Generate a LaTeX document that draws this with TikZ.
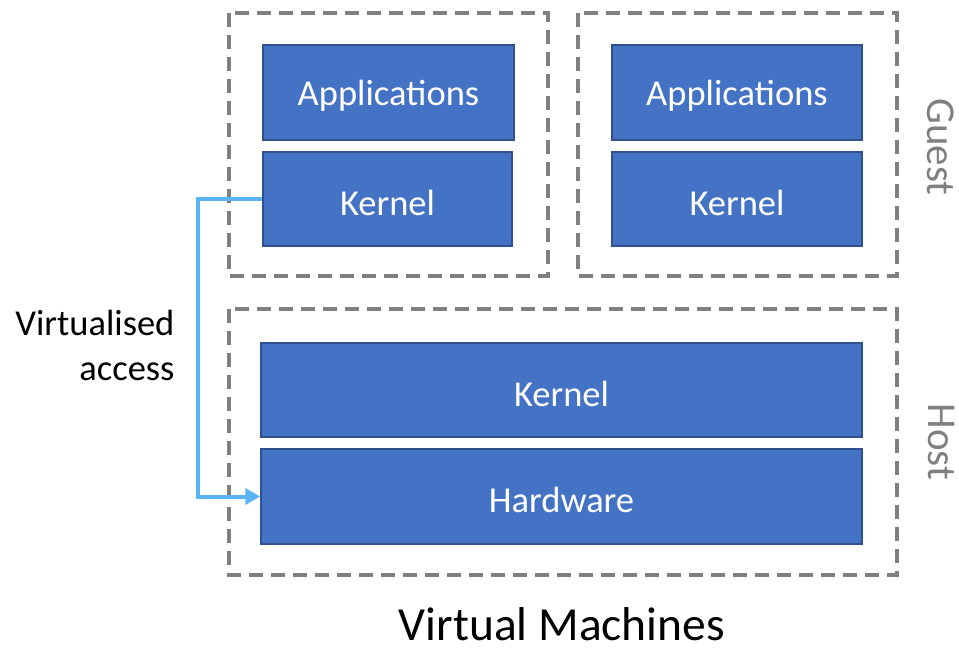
\documentclass[tikz,border=0pt]{standalone}
\usepackage{fontspec}
\setmainfont{Carlito}
\usetikzlibrary{arrows.meta}
\definecolor{boxblue}{HTML}{4472C4}
\definecolor{boxedge}{HTML}{2F528F}
\definecolor{dashgray}{HTML}{808080}
\definecolor{linkblue}{HTML}{5AB4F6}
\tikzset{
  layer/.style={draw=boxedge, line width=1.5pt, fill=boxblue, text=white,
    font=\fontsize{36.5}{40}\selectfont, inner sep=0pt},
  zone/.style={draw=dashgray, line width=4pt, dash pattern=on 14pt off 8pt},
  sidelabel/.style={text=dashgray, font=\fontsize{41}{44}\selectfont, rotate=-90},
  link/.style={draw=linkblue, line width=4pt, -{Triangle[length=15pt,width=16pt]}}
}
% lower a label inside its box while keeping the box dimensions
\newcommand{\lowered}[1]{\raisebox{-3.5pt}[\height][\depth]{#1}}
\begin{document}
\begin{tikzpicture}[x=1pt,y=-1pt]
\useasboundingbox (0,0) rectangle (959,649);
% dashed zones
\draw[zone] (229,13) rectangle (548,276);
\draw[zone] (578,13) rectangle (897,276);
\draw[zone] (229,309) rectangle (897,575);
% guest 1
\node[layer, minimum width=251pt, minimum height=95pt] (app1) at (388.5,92.5) {\lowered{Applications}};
\node[layer, minimum width=249pt, minimum height=94pt] (ker1) at (387.5,199) {\lowered{Kernel}};
% guest 2
\node[layer, minimum width=250pt, minimum height=95pt] (app2) at (737,92.5) {\lowered{Applications}};
\node[layer, minimum width=250pt, minimum height=94pt] (ker2) at (737,199) {\lowered{Kernel}};
% host
\node[layer, minimum width=601pt, minimum height=94pt] (hker) at (561.5,390) {\lowered{Kernel}};
\node[layer, minimum width=601pt, minimum height=95pt] (hw) at (561.5,496.5) {\lowered{Hardware}};
% side labels
\node[sidelabel] (guest) at (941,147) {Guest};
\node[sidelabel] (host) at (941,442) {Host};
% virtualised access link
\coordinate (bendA) at (198,199);
\coordinate (bendB) at (198,496.5);
\draw[link] (ker1.west) -- (bendA) -- (bendB) -- (hw.west);
\node[align=right, anchor=east, font=\fontsize{36.5}{45}\selectfont] (va) at (178,345) {Virtualised\\access};
% title
\node[inner sep=0pt, font=\fontsize{47.5}{50}\selectfont] (title) at (562,624) {Virtual Machines};
\end{tikzpicture}
\end{document}
